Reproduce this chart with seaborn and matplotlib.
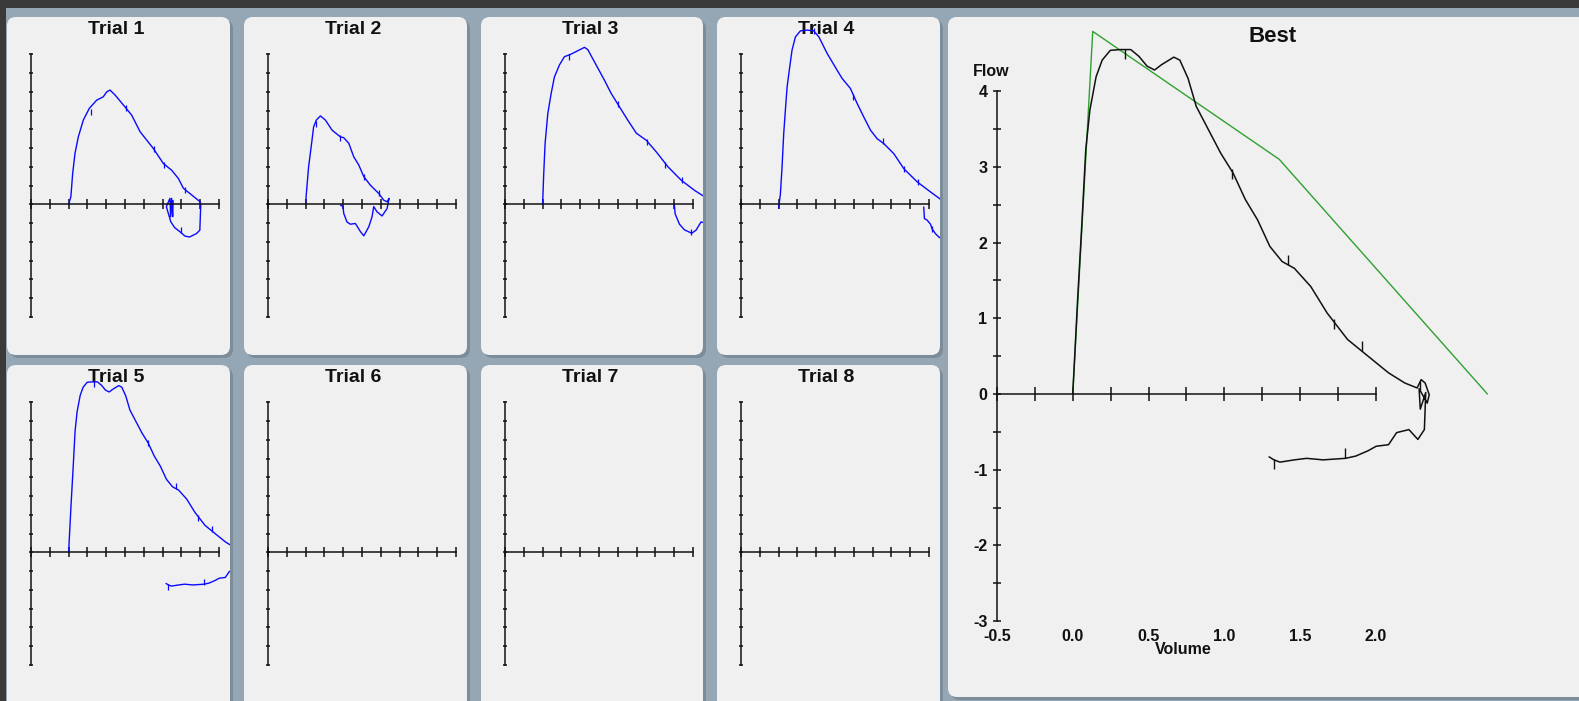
import numpy as np
import matplotlib
matplotlib.use("Agg")
import matplotlib.pyplot as plt
from matplotlib.patches import FancyBboxPatch, Rectangle
import seaborn as sns

# ---- data (volume in L, flow in L/s) ----
best_vol = [0.0, 0.013, 0.032, 0.059, 0.086, 0.113, 0.154, 0.194, 0.248, 0.316, 0.383,
            0.437, 0.491, 0.540, 0.586, 0.667, 0.707, 0.761, 0.815, 0.896, 0.977, 1.058,
            1.139, 1.220, 1.301, 1.382, 1.463, 1.571, 1.679, 1.814, 1.949, 2.084, 2.192,
            2.273, 2.300, 2.326, 2.353, 2.340, 2.286, 2.294, 2.330, 2.321, 2.278, 2.219,
            2.138, 2.084, 2.003, 1.949, 1.868, 1.800, 1.652, 1.544, 1.463, 1.368, 1.328,
            1.296]
best_flow = [0.0, 0.50, 1.245, 2.21, 3.23, 3.75, 4.19, 4.41, 4.54, 4.55, 4.55,
             4.46, 4.33, 4.28, 4.35, 4.45, 4.41, 4.17, 3.80, 3.49, 3.18, 2.92,
             2.57, 2.30, 1.95, 1.75, 1.66, 1.42, 1.07, 0.72, 0.50, 0.28, 0.145,
             0.08, 0.19, 0.145, -0.01, -0.12, 0.07, -0.20, 0.02, -0.47, -0.60, -0.47,
             -0.51, -0.67, -0.69, -0.75, -0.82, -0.85, -0.87, -0.85, -0.87, -0.90, -0.87,
             -0.83]
best_mark_vol = [0.343, 1.053, 1.422, 1.727, 1.908, 2.294, 1.800, 1.328]
best_mark_flow = [4.49, 2.91, 1.77, 0.93, 0.63, 0.10, -0.78, -0.92]

pred_vol = [0.0, 0.132, 1.363, 2.737]
pred_flow = [0.0, 4.79, 3.10, 0.0]

t1_vol = [0.0, 0.03, 0.054, 0.085, 0.129, 0.196, 0.275, 0.373, 0.461, 0.506, 0.551,
          0.617, 0.750, 0.839, 0.950, 1.127, 1.260, 1.371, 1.460, 1.526, 1.637, 1.748,
          1.757, 1.745, 1.70, 1.61, 1.55, 1.48, 1.41, 1.36, 1.326, 1.30, 1.348, 1.357,
          1.37, 1.384, 1.39]
t1_flow = [0.0, 0.2, 0.82, 1.36, 1.80, 2.25, 2.56, 2.78, 2.87, 3.0, 3.05,
           2.92, 2.60, 2.38, 1.94, 1.49, 1.09, 0.91, 0.69, 0.43, 0.25, 0.07,
           -0.02, -0.69, -0.78, -0.87, -0.85, -0.73, -0.62, -0.47, -0.24, -0.06, 0.16, -0.33,
           0.16, -0.33, 0.10]
t1_mark_vol = [0.293, 0.763, 1.136, 1.269, 1.545, 1.50]
t1_mark_flow = [2.47, 2.56, 1.49, 1.05, 0.38, -0.69]

t2_vol = [0.0, 0.01, 0.04, 0.085, 0.107, 0.143, 0.197, 0.263, 0.352, 0.463, 0.507,
          0.574, 0.640, 0.707, 0.774, 0.862, 0.973, 1.04, 1.084, 1.11, 1.084, 1.017,
          0.95, 0.906, 0.884, 0.840, 0.774, 0.73, 0.662, 0.596, 0.55, 0.507, 0.497, 0.463]
t2_flow = [0.0, 0.29, 1.0, 1.71, 2.07, 2.25, 2.36, 2.25, 1.98, 1.80, 1.78,
           1.63, 1.27, 1.05, 0.74, 0.51, 0.29, 0.11, 0.07, 0.16, -0.11, -0.31,
           -0.2, -0.06, -0.33, -0.6, -0.84, -0.73, -0.51, -0.53, -0.47, -0.24, -0.06, -0.02]
t2_mark_vol = [0.143, 0.456, 0.774, 0.973]
t2_mark_flow = [2.14, 1.78, 0.74, 0.29]

t3_vol = [0.0, 0.015, 0.033, 0.069, 0.113, 0.157, 0.224, 0.29, 0.379, 0.468, 0.557,
          0.601, 0.712, 0.823, 0.912, 1.023, 1.135, 1.246, 1.379, 1.512, 1.668, 1.845,
          2.023, 2.156, 2.17, 2.15, 2.17, 2.107, 2.04, 1.983, 1.886, 1.82, 1.762, 1.753]
t3_flow = [0.0, 0.82, 1.62, 2.42, 2.95, 3.40, 3.72, 3.94, 4.01, 4.10, 4.19,
           4.13, 3.72, 3.31, 2.96, 2.60, 2.24, 1.90, 1.71, 1.40, 1.00, 0.64,
           0.37, 0.20, 0.05, -0.3, -0.5, -0.47, -0.69, -0.77, -0.68, -0.53, -0.25, -0.03]
t3_mark_vol = [0.356, 1.0, 1.39, 1.63, 1.85, 1.98]
t3_mark_flow = [3.92, 2.69, 1.67, 1.04, 0.64, -0.74]

t4_vol = [0.0, 0.024, 0.046, 0.068, 0.09, 0.113, 0.148, 0.179, 0.224, 0.29, 0.379,
          0.468, 0.535, 0.645, 0.778, 0.845, 0.956, 1.045, 1.133, 1.222, 1.311, 1.40,
          1.533, 1.666, 1.843, 2.021, 2.11, 2.168, 2.28, 2.30, 2.24, 2.168, 2.13,
          2.085, 2.04, 2.02, 1.975, 1.939, 1.93]
t4_flow = [-0.1, 0.28, 1.0, 1.89, 2.51, 3.13, 3.67, 4.12, 4.47, 4.63, 4.65,
           4.63, 4.47, 4.03, 3.58, 3.36, 3.09, 2.69, 2.33, 1.98, 1.75, 1.62,
           1.35, 0.95, 0.60, 0.33, 0.20, 0.11, 0.0, -0.5, -0.95, -0.92, -0.87,
           -0.78, -0.65, -0.53, -0.42, -0.38, -0.07]
t4_mark_vol = [0.468, 0.99, 1.39, 1.67, 1.86, 2.04]
t4_mark_flow = [4.63, 2.87, 1.69, 0.95, 0.60, -0.65]

trial_names = ["Trial 1", "Trial 2", "Trial 3", "Trial 4",
               "Trial 5", "Trial 6", "Trial 7", "Trial 8"]
trial_curves = [(t1_vol, t1_flow, t1_mark_vol, t1_mark_flow),
                (t2_vol, t2_flow, t2_mark_vol, t2_mark_flow),
                (t3_vol, t3_flow, t3_mark_vol, t3_mark_flow),
                (t4_vol, t4_flow, t4_mark_vol, t4_mark_flow),
                (best_vol, best_flow, best_mark_vol, best_mark_flow),
                None, None, None]

vol_ticks = np.arange(-0.5, 2.01, 0.25)
flow_ticks = np.arange(-3, 4.01, 0.5)
vol_labels = [-0.5, 0.0, 0.5, 1.0, 1.5, 2.0]

# ---- layout (pixels) ----
W, H = 1579, 701
BG = "#95a7b5"
PANEL = "#f0f0f0"
SHADOW = "#7c8c98"
DARK = "#3a3a3a"
BLUE = "#0a0aff"
GREEN = "#2fa12f"
INK = "#111111"

sns.set_theme(style="white")
plt.rcParams["font.family"] = ["Liberation Sans", "DejaVu Sans"]

fig = plt.figure(figsize=(W / 100, H / 100), dpi=100, facecolor=BG)

bg = fig.add_axes([0, 0, 1, 1], zorder=-5)
bg.set_xlim(0, W)
bg.set_ylim(H, 0)
bg.axis("off")
bg.add_patch(Rectangle((0, 0), W, 8, fc=DARK, ec="none"))
bg.add_patch(Rectangle((0, 0), 6, H, fc=DARK, ec="none"))


def panel(x0, y0, x1, y1):
    bg.add_patch(FancyBboxPatch((x0 + 3, y0 + 3), x1 - x0, y1 - y0,
                                boxstyle="round,pad=0,rounding_size=9",
                                fc=SHADOW, ec="none"))
    bg.add_patch(FancyBboxPatch((x0, y0), x1 - x0, y1 - y0,
                                boxstyle="round,pad=0,rounding_size=9",
                                fc=PANEL, ec="none"))


def rect(x0, y0, x1, y1):
    return [x0 / W, 1 - y1 / H, (x1 - x0) / W, (y1 - y0) / H]


def style_axes(ax, xlen, ylen):
    for s in ["top", "right"]:
        ax.spines[s].set_visible(False)
    ax.spines["left"].set_position(("data", -0.5))
    ax.spines["left"].set_bounds(-3, 4)
    ax.spines["bottom"].set_position(("data", 0))
    ax.spines["bottom"].set_bounds(-0.5, 2.0)
    for s in ["left", "bottom"]:
        ax.spines[s].set_color(INK)
        ax.spines[s].set_linewidth(1.1)
    ax.tick_params(axis="x", bottom=True, direction="inout", length=xlen,
                   width=1.1, color=INK)
    ax.tick_params(axis="y", left=True, direction="inout", length=ylen,
                   width=1.1, color=INK)


cols = [(7, 230), (244, 467), (481, 703), (717, 940)]
rows = [(17, 355), (365, 703)]

for i, name in enumerate(trial_names):
    x0, x1 = cols[i % 4]
    y0, y1 = rows[i // 4]
    panel(x0, y0, x1, y1 + (10 if i >= 4 else 0))
    bg.text((x0 + x1) / 2 - 2, y0 + 13, name, ha="center", va="center",
            fontsize=14, fontweight="bold", color=INK)

    ax = fig.add_axes(rect(x0, y0, x1, y1))
    ax.set_facecolor("none")
    pw, ph = x1 - x0, y1 - y0
    ax.set_xlim(-0.5 - 24 / 75.2, -0.5 + (pw - 24) / 75.2)
    ax.set_ylim(5.0 - ph / 37.47, 5.0)
    ax.set_xticks(vol_ticks, [""] * len(vol_ticks))
    ax.set_yticks(flow_ticks, [""] * len(flow_ticks))
    style_axes(ax, 7, 3)

    if trial_curves[i] is not None:
        v, f, mv, mf = trial_curves[i]
        sns.lineplot(x=v, y=f, sort=False, estimator=None, color=BLUE, lw=1.0, ax=ax)
        ax.plot(mv, mf, ls="none", marker="|", ms=4, mew=0.9, color=BLUE)
    ax.set_xlabel("")
    ax.set_ylabel("")

# ---- Best panel ----
BX0 = 948
VX0 = 997.0   # pixel of volume -0.5
VPX = 151.5   # pixels per litre
FY0 = 394.0   # pixel of flow 0
FPX = 75.7    # pixels per L/s
panel(BX0, 17, 1600, 697)
bg.text(1273, 37, "Best", ha="center", va="center",
        fontsize=16, fontweight="bold", color=INK)

ax = fig.add_axes(rect(BX0, 17, W, 697))
ax.set_facecolor("none")
ax.set_xlim(-0.5 - (VX0 - BX0) / VPX, -0.5 + (W - VX0) / VPX)
ax.set_ylim(-(697 - FY0) / FPX, (FY0 - 17) / FPX)
ax.set_xticks(vol_ticks, [""] * len(vol_ticks))
ax.set_yticks(flow_ticks, [str(int(t)) if t == int(t) else "" for t in flow_ticks])
style_axes(ax, 10.5, 5.8)
ax.tick_params(axis="y", pad=4, labelsize=11.5, labelcolor=INK)
for lab in ax.get_yticklabels():
    lab.set_fontweight("bold")

sns.lineplot(x=pred_vol, y=pred_flow, sort=False, estimator=None, color=GREEN, lw=1.0, ax=ax)
sns.lineplot(x=best_vol, y=best_flow, sort=False, estimator=None, color=INK, lw=1.1, ax=ax)
ax.plot(best_mark_vol, best_mark_flow, ls="none", marker="|", ms=7, mew=1.0, color=INK)

for v in vol_labels:
    ax.text(v, -3.21, f"{v:.1f}", ha="center", va="center",
            fontsize=11.5, fontweight="bold", color=INK)
ax.text(0.73, -3.38, "Volume", ha="center", va="center",
        fontsize=11.5, fontweight="bold", color=INK)
ax.text(-0.537, 4.26, "Flow", ha="center", va="center",
        fontsize=11.5, fontweight="bold", color=INK)
ax.set_xlabel("")
ax.set_ylabel("")

fig.savefig("out.png", dpi=100, facecolor=BG)
